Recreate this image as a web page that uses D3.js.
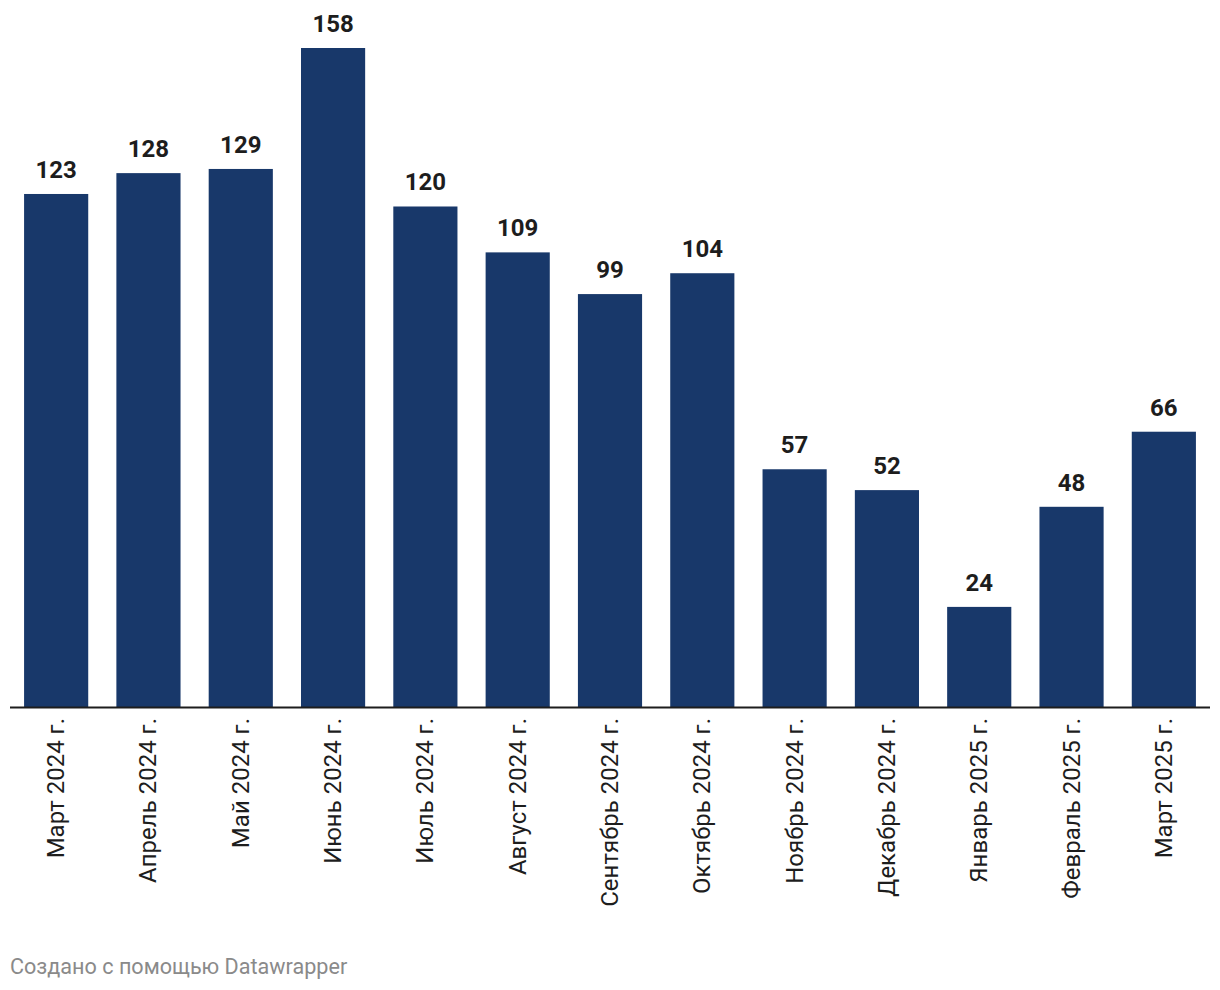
<!DOCTYPE html>
<html><head><meta charset="utf-8">
<script src="https://cdn.jsdelivr.net/npm/d3@7"></script>
<style>
body{margin:0;background:#fff;}
svg{display:block;font-family:Roboto,sans-serif;}
</style></head>
<body><svg id="chart" width="1220" height="990"></svg>
<script>
const categories = ["Март 2024 г.","Апрель 2024 г.","Май 2024 г.","Июнь 2024 г.","Июль 2024 г.","Август 2024 г.","Сентябрь 2024 г.","Октябрь 2024 г.","Ноябрь 2024 г.","Декабрь 2024 г.","Январь 2025 г.","Февраль 2025 г.","Март 2025 г."];
const values = [123,128,129,158,120,109,99,104,57,52,24,48,66];
const footerText = "Создано с помощью Datawrapper";

const svg = d3.select("#chart");
const baseY = 707;
const x = d3.scaleBand().domain(categories).range([10,1210]).paddingInner(0.305).paddingOuter(0.1525);
const y = d3.scaleLinear().domain([0,158]).range([baseY,48]);

svg.selectAll("rect.bar").data(values).join("rect")
  .attr("class","bar")
  .attr("x",(d,i)=>x(categories[i]))
  .attr("width",x.bandwidth())
  .attr("y",d=>y(d))
  .attr("height",d=>baseY-y(d))
  .attr("fill","#18386a");

svg.selectAll("text.val").data(values).join("text")
  .attr("class","val")
  .attr("x",(d,i)=>x(categories[i])+x.bandwidth()/2)
  .attr("y",d=>y(d)-16)
  .attr("text-anchor","middle")
  .attr("font-weight","700")
  .attr("font-size","24px")
  .attr("fill","#1d1d1d")
  .text(d=>d);

svg.append("line").attr("x1",10).attr("x2",1210).attr("y1",baseY+0.5).attr("y2",baseY+0.5)
  .attr("stroke","#1d1d1d").attr("stroke-width",2);

svg.selectAll("text.cat").data(categories).join("text")
  .attr("class","cat")
  .attr("transform",d=>`translate(${x(d)+x.bandwidth()/2+8},718) rotate(-90)`)
  .attr("text-anchor","end")
  .attr("font-size","24px")
  .attr("fill","#1d1d1d")
  .text(d=>d);

svg.append("text").attr("x",10).attr("y",974)
  .attr("font-size","21.6px").attr("fill","#8a8a8a").text(footerText);
</script></body></html>
